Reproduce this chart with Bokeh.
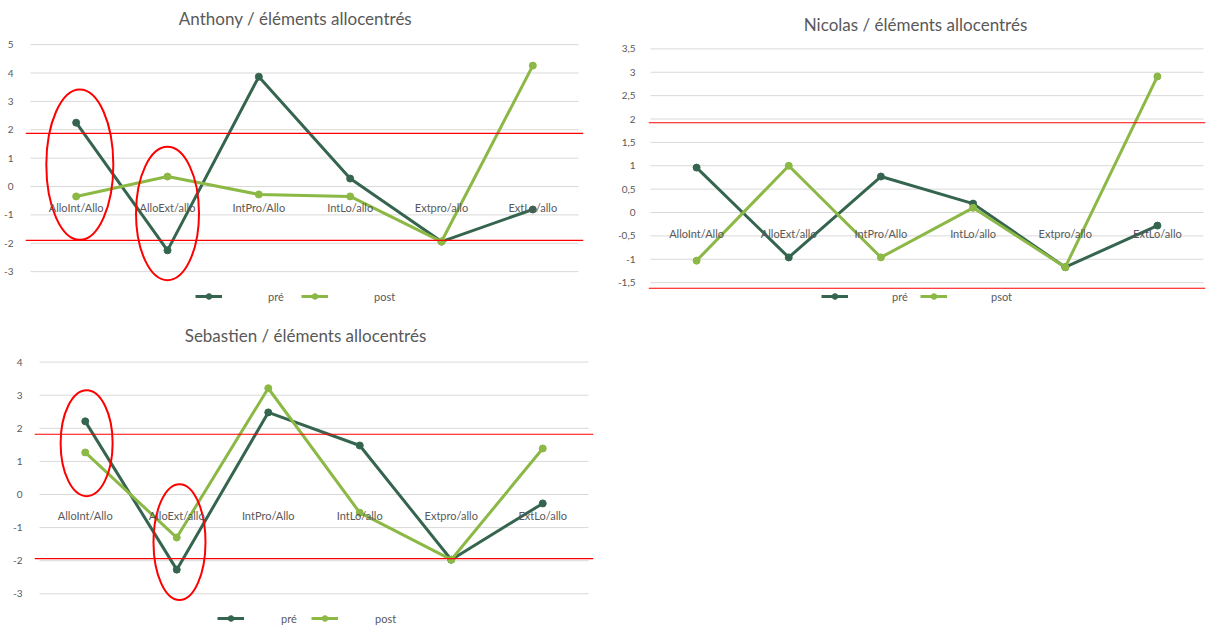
from bokeh.plotting import figure
from bokeh.models import (FactorRange, Range1d, FixedTicker, Span, ColumnDataSource,
                          Legend, LegendItem, CustomJSTickFormatter, Label)
from bokeh.layouts import column, row
from bokeh.embed import file_html
from bokeh.resources import INLINE

# ---------------- data ----------------
categories = ["AlloInt/Allo", "AlloExt/allo", "IntPro/Allo", "IntLo/allo", "Extpro/allo", "ExtLo/allo"]

anthony_pre = [2.25, -2.25, 3.87, 0.28, -1.94, -0.81]
anthony_post = [-0.35, 0.35, -0.28, -0.35, -1.94, 4.26]
anthony_ticks = [-3, -2, -1, 0, 1, 2, 3, 4, 5]
anthony_red = [1.87, -1.9]
anthony_circled = ["AlloInt/Allo", "AlloExt/allo"]
anthony_circle_mid = [0.77, -0.95]
anthony_circle_span = [5.3, 4.7]

nicolas_pre = [0.96, -0.96, 0.77, 0.19, -1.17, -0.28]
nicolas_post = [-1.03, 1.0, -0.96, 0.1, -1.17, 2.91]
nicolas_ticks = [-1.5, -1, -0.5, 0, 0.5, 1, 1.5, 2, 2.5, 3, 3.5]
nicolas_red = [1.92, -1.62]

sebastien_pre = [2.21, -2.27, 2.48, 1.48, -1.97, -0.27]
sebastien_post = [1.27, -1.3, 3.21, -0.55, -1.97, 1.39]
sebastien_ticks = [-3, -2, -1, 0, 1, 2, 3, 4]
sebastien_red = [1.82, -1.94]
sebastien_circled = ["AlloInt/Allo", "AlloExt/allo"]
sebastien_circle_mid = [1.55, -1.44]
sebastien_circle_span = [3.2, 3.5]

# ---------------- style ----------------
PRE_COLOR = "#35654F"
POST_COLOR = "#8CB845"
TEXT = "#595959"
GRID = "#D9D9D9"
FONT = "Lato"


def make_chart(title, pre, post, post_label, ticks, red,
               circ_cats, circ_mid, circ_h, circ_w, circ_off,
               fig_w, fig_h, left, frame_w, zero_off, ppu, pad_px,
               title_x, title_y, leg_x, leg_y, standoff, spacing, ylab_standoff):
    extent = frame_w - 2 * pad_px
    frame_h = fig_h
    xr = FactorRange(factors=categories, range_padding=2 * pad_px / extent,
                     range_padding_units="percent")
    yr = Range1d(-(frame_h - zero_off) / ppu, zero_off / ppu)
    p = figure(x_range=xr, y_range=yr, frame_width=frame_w, frame_height=frame_h,
               min_border_left=left, min_border_right=fig_w - left - frame_w,
               min_border_top=0, min_border_bottom=0,
               output_backend="svg", toolbar_location=None)
    p.outline_line_color = None
    p.xgrid.visible = False
    p.ygrid.visible = False

    p.add_layout(Label(x=title_x, y=title_y, x_units="screen", y_units="screen",
                       text=title, text_align="center", text_baseline="middle",
                       text_font=FONT, text_font_size="17px", text_color=TEXT))

    # horizontal grid lines spanning the category area
    gsrc = ColumnDataSource(dict(
        x0=[(categories[0], -0.5)] * len(ticks),
        x1=[(categories[-1], 0.5)] * len(ticks),
        y=ticks))
    p.segment(x0="x0", y0="y", x1="x1", y1="y", source=gsrc,
              line_color=GRID, line_width=1)

    # red threshold lines
    for v in red:
        p.add_layout(Span(location=v, dimension="width", line_color="#FF0000",
                          line_width=1.2))

    src = ColumnDataSource(dict(cat=categories, pre=pre, post=post))
    l1 = p.line("cat", "pre", source=src, line_color=PRE_COLOR, line_width=3)
    c1 = p.scatter("cat", "pre", source=src, size=7, fill_color=PRE_COLOR,
                   line_color=PRE_COLOR)
    l2 = p.line("cat", "post", source=src, line_color=POST_COLOR, line_width=3)
    c2 = p.scatter("cat", "post", source=src, size=7, fill_color=POST_COLOR,
                   line_color=POST_COLOR)

    if circ_cats:
        esrc = ColumnDataSource(dict(
            x=[(c, o) for c, o in zip(circ_cats, circ_off)],
            y=circ_mid, h=circ_h, w=circ_w))
        p.ellipse(x="x", y="y", width="w", height="h", width_units="screen",
                  height_units="data", source=esrc, fill_color=None,
                  line_color="#FF0000", line_width=2)

    # axes
    p.xaxis.fixed_location = 0
    p.xaxis.axis_line_color = None
    p.xaxis.major_tick_line_color = None
    p.xaxis.minor_tick_line_color = None
    p.xaxis.major_label_standoff = 8
    p.xaxis.major_label_text_font = FONT
    p.xaxis.major_label_text_font_size = "11px"
    p.xaxis.major_label_text_color = TEXT

    p.yaxis.ticker = FixedTicker(ticks=ticks)
    p.yaxis.formatter = CustomJSTickFormatter(code="return String(tick).replace('.', ',');")
    p.yaxis.axis_line_color = None
    p.yaxis.major_tick_line_color = None
    p.yaxis.minor_tick_line_color = None
    p.yaxis.major_label_standoff = ylab_standoff
    p.yaxis.major_label_text_font = FONT
    p.yaxis.major_label_text_font_size = "10px"
    p.yaxis.major_label_text_color = TEXT

    legend = Legend(items=[LegendItem(label="pré", renderers=[l1, c1]),
                           LegendItem(label=post_label, renderers=[l2, c2])],
                    orientation="horizontal", location=(leg_x, leg_y),
                    glyph_width=27, glyph_height=14, label_height=14, label_width=16,
                    label_standoff=standoff, spacing=spacing, padding=0, margin=0,
                    border_line_color=None, background_fill_alpha=0,
                    label_text_font=FONT, label_text_font_size="11px",
                    label_text_color=TEXT)
    p.add_layout(legend)
    return p


p1 = make_chart("Anthony / éléments allocentrés", anthony_pre, anthony_post, "post",
                anthony_ticks, anthony_red,
                anthony_circled, anthony_circle_mid, anthony_circle_span, [67, 63], [0.04, 0.0],
                fig_w=598, fig_h=314, left=25, frame_w=558, zero_off=186,
                ppu=28.375, pad_px=5, title_x=270, title_y=296, leg_x=170, leg_y=11,
                standoff=46, spacing=17, ylab_standoff=6)

p2 = make_chart("Nicolas / éléments allocentrés", nicolas_pre, nicolas_post, "psot",
                nicolas_ticks, nicolas_red,
                [], [], [], [], [],
                fig_w=613, fig_h=314, left=50, frame_w=557, zero_off=212,
                ppu=46.75, pad_px=2, title_x=267, title_y=290, leg_x=173, leg_y=11,
                standoff=44, spacing=12, ylab_standoff=7)

p3 = make_chart("Sebastien / éléments allocentrés", sebastien_pre, sebastien_post, "post",
                sebastien_ticks, sebastien_red,
                sebastien_circled, sebastien_circle_mid, sebastien_circle_span, [52, 52], [0.015, 0.03],
                fig_w=598, fig_h=315, left=34, frame_w=559, zero_off=180,
                ppu=33.1, pad_px=5, title_x=271, title_y=294, leg_x=183, leg_y=4,
                standoff=37, spacing=14, ylab_standoff=6)

layout = column(row(p1, p2), p3)
open("out.html", "w").write(file_html(layout, INLINE))
